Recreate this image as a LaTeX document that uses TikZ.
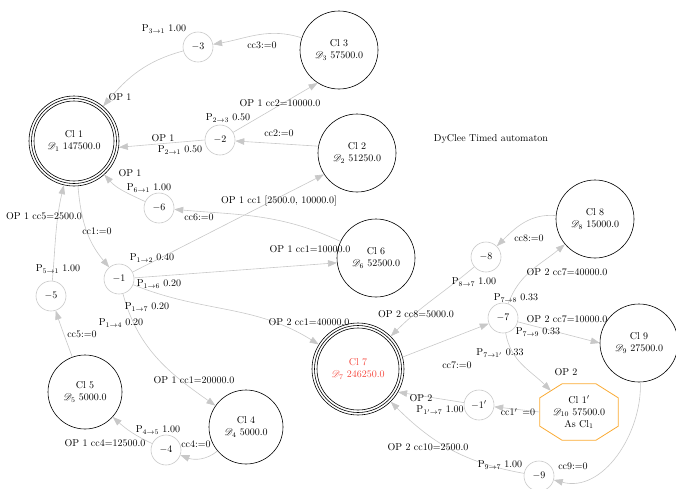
\documentclass[tikz,border=0pt]{standalone}
\usepackage{mathrsfs}
\usetikzlibrary{arrows.meta}
\definecolor{edgegray}{RGB}{200,200,200}
\definecolor{clred}{RGB}{245,70,60}
\definecolor{octorange}{RGB}{250,170,50}
\newcommand{\pp}[2]{$\mathrm{P}_{#1\rightarrow #2}$}
\newcommand{\DD}[1]{$\mathscr{D}_{#1}$}
\begin{document}
\begin{tikzpicture}[x=1pt,y=1pt,
  big/.style={circle, draw=black, line width=0.6pt, minimum size=78pt, inner sep=0pt, align=center},
  small/.style={circle, draw=edgegray, line width=0.6pt, minimum size=30pt, inner sep=0pt},
  conn/.style={draw=edgegray, line width=0.6pt, -{Triangle[length=9pt,width=6.5pt]}},
  lbl/.style={inner sep=0pt},
  ring/.style={draw=black, line width=0.6pt}
]
\useasboundingbox (0,0) rectangle (676,-488);

% big nodes
\node[big, minimum size=90pt] (cl1) at (74,-141) {Cl 1\\\DD{1} 147500.0};
\draw[ring] (cl1.center) circle[radius=42.5pt] circle[radius=40pt];
\node[big] (cl2) at (357,-153) {Cl 2\\\DD{2} 51250.0};
\node[big] (cl3) at (339,-50) {Cl 3\\\DD{3} 57500.0};
\node[big, minimum size=74pt] (cl4) at (246,-427) {Cl 4\\\DD{4} 5000.0};
\node[big, minimum size=74pt] (cl5) at (85,-392) {Cl 5\\\DD{5} 5000.0};
\node[big] (cl6) at (376,-258) {Cl 6\\\DD{6} 52500.0};
\node[big, minimum size=92pt, text=clred] (cl7) at (358,-369) {Cl 7\\\DD{7} 246250.0};
\draw[ring] (cl7.center) circle[radius=43.5pt] circle[radius=41pt];
\node[big] (cl8) at (595,-219) {Cl 8\\\DD{8} 15000.0};
\node[big] (cl9) at (639,-343) {Cl 9\\\DD{9} 27500.0};
\node[minimum width=78pt, minimum height=56pt, inner sep=0pt, align=center] (cl1p) at (579,-412) {Cl 1$'$\\\DD{10} 57500.0\\As Cl$_1$};
\draw[draw=octorange, line width=0.8pt]
  ([xshift=-17pt]cl1p.north) -- ([xshift=17pt]cl1p.north) -- ([yshift=-14pt]cl1p.north east)
  -- ([yshift=14pt]cl1p.south east) -- ([xshift=17pt]cl1p.south) -- ([xshift=-17pt]cl1p.south)
  -- ([yshift=14pt]cl1p.south west) -- ([yshift=-14pt]cl1p.north west) -- cycle;
\coordinate (octin) at ([shift={(11pt,-7pt)}]cl1p.north west);

% small nodes
\node[small] (m1) at (119,-279) {$-1$};
\node[small] (m2) at (220,-140) {$-2$};
\node[small] (m3) at (198,-47) {$-3$};
\node[small] (m4) at (166,-450) {$-4$};
\node[small] (m5) at (51,-296) {$-5$};
\node[small] (m6) at (159,-208) {$-6$};
\node[small] (m7) at (503,-318) {$-7$};
\node[small] (m8) at (486,-257) {$-8$};
\node[small] (m9) at (539,-476) {$-9$};
\node[small] (m1p) at (479,-405) {$-1'$};

\node (title) at (491,-139) {DyClee Timed automaton};

% edges
\draw[conn] (cl3) to[out=162,in=10] (m3);
\draw[conn] (m3) to[out=195,in=50] (cl1);
\draw[conn] (m2) -- (cl3.237);
\draw[conn] (m2.180) -- (cl1.-8);
\draw[conn] (cl2.170) -- (m2);
\draw[conn] (m6) to[out=155,in=-48] (cl1);
\draw[conn] (cl6) to[out=155,in=-5] (m6);
\draw[conn] (cl1) to[out=-85,in=130] (m1);
\draw[conn] (m1) -- (cl2.213);
\draw[conn] (m1) -- (cl6.187);
\draw[conn] (m1) to[out=-22,in=148] (cl7);
\draw[conn] (m1) to[out=-75,in=145] (cl4);
\draw[conn] (m5) to[out=85,in=-103] (cl1);
\draw[conn] (cl5) to[out=110,in=-72] (m5);
\draw[conn] (m4) to[out=155,in=-42] (cl5);
\draw[conn] (cl4) to[out=-140,in=-20] (m4);
\draw[conn] (m8) to[out=-140,in=45] (cl7);
\draw[conn] (cl8) to[out=175,in=45] (m8);
\draw[conn] (cl7.15) -- (m7);
\draw[conn] (m7) to[out=70,in=-140] (cl8);
\draw[conn] (m7) -- (cl9.180);
\draw[conn] (m7) to[out=-80,in=135] (octin);
\draw[conn] (cl1p.west) -- (m1p);
\draw[conn] (m1p) -- (cl7.-30);
\draw[conn] (m9) to[out=170,in=-45] (cl7);
\draw[conn] (cl9) to[out=-88,in=-15] (m9);

% labels
\node[lbl] (l1) at (262,-45) {cc3:=0};
\node[lbl] (l2) at (164,-29) {\pp{3}{1} 1.00};
\node[lbl] (l3) at (120,-97) {OP 1};
\node[lbl] (l4) at (280,-103) {OP 1 cc2=10000.0};
\node[lbl] (l5) at (228,-118) {\pp{2}{3} 0.50};
\node[lbl] (l6) at (163,-138) {OP 1};
\node[lbl] (l7) at (180,-150) {\pp{2}{1} 0.50};
\node[lbl] (l8) at (279,-133) {cc2:=0};
\node[lbl] (l9) at (130,-173) {OP 1};
\node[lbl] (l10) at (149,-188) {\pp{6}{1} 1.00};
\node[lbl] (l11) at (199,-217) {cc6:=0};
\node[lbl] (l12) at (279,-201) {OP 1 cc1 [2500.0, 10000.0]};
\node[lbl] (l13) at (97,-231) {cc1:=0};
\node[lbl] (l14) at (152,-258) {\pp{1}{2} 0.40};
\node[lbl] (l15) at (310,-249) {OP 1 cc1=10000.0};
\node[lbl] (l16) at (159,-284) {\pp{1}{6} 0.20};
\node[lbl] (l17) at (309,-322) {OP 2 cc1=40000.0};
\node[lbl] (l18) at (147,-307) {\pp{1}{7} 0.20};
\node[lbl] (l19) at (194,-380) {OP 1 cc1=20000.0};
\node[lbl] (l20) at (121,-323) {\pp{1}{4} 0.20};
\node[lbl] (l21) at (44,-216) {OP 1 cc5=2500.0};
\node[lbl] (l22) at (58,-269) {\pp{5}{1} 1.00};
\node[lbl] (l23) at (82,-334) {cc5:=0};
\node[lbl] (l24) at (105,-443) {OP 1 cc4=12500.0};
\node[lbl] (l25) at (158,-430) {\pp{4}{5} 1.00};
\node[lbl] (l26) at (196,-444) {cc4:=0};
\node[lbl] (l27) at (416,-314) {OP 2 cc8=5000.0};
\node[lbl] (l28) at (474,-282) {\pp{8}{7} 1.00};
\node[lbl] (l29) at (529,-238) {cc8:=0};
\node[lbl] (l30) at (457,-365) {cc7:=0};
\node[lbl] (l31) at (567,-272) {OP 2 cc7=40000.0};
\node[lbl] (l32) at (516,-298) {\pp{7}{8} 0.33};
\node[lbl] (l33) at (567,-319) {OP 2 cc7=10000.0};
\node[lbl] (l34) at (538,-332) {\pp{7}{9} 0.33};
\node[lbl] (l35) at (566,-372) {OP 2};
\node[lbl] (l36) at (500,-353) {\pp{7}{1'}\ 0.33};
\node[lbl] (l37) at (518,-412) {cc1$'$\ \,=0};
\node[lbl] (l38) at (421,-398) {OP 2};
\node[lbl] (l39) at (440,-410) {\pp{1'}{7} 1.00};
\node[lbl] (l40) at (428,-447) {OP 2 cc10=2500.0};
\node[lbl] (l41) at (500,-465) {\pp{9}{7} 1.00};
\node[lbl] (l42) at (573,-466) {cc9:=0};
\end{tikzpicture}
\end{document}
